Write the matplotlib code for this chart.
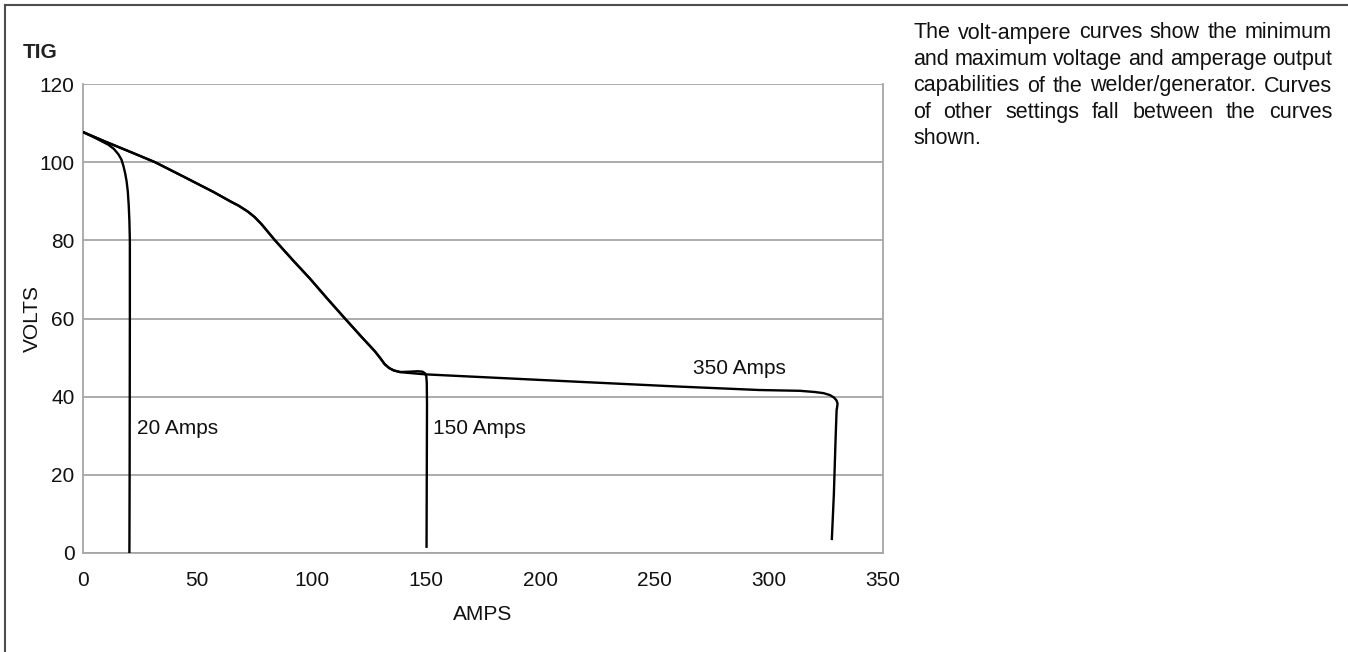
import matplotlib
matplotlib.use("Agg")
import matplotlib.pyplot as plt
from matplotlib.lines import Line2D

plt.rcParams['font.family'] = ['Liberation Sans', 'DejaVu Sans']

# Shared upper part of the volt-ampere characteristic
upper_amps = [0, 10, 20, 31.5, 45, 57, 65, 68, 72, 75, 78, 81, 84, 92, 99.3,
              107, 114.6, 122, 125.5, 127.7]
upper_volts = [107.7, 105.2, 102.8, 100, 96.0, 92.4, 89.8, 88.9, 87.4, 86.0,
               84.2, 82.1, 80, 74.8, 70.2, 65, 60, 55.2, 53.0, 51.6]

# 350 A setting (maximum)
amps_350 = upper_amps + [130, 132, 134, 136, 138.7, 142, 150, 217, 260, 296,
                         313.6, 320, 324, 326.8, 328.5, 329.6, 330.1, 330.0,
                         329.7, 329.3, 328.5, 327.6]
volts_350 = upper_volts + [49.9, 48.3, 47.3, 46.7, 46.3, 46.1, 45.7, 43.8,
                           42.6, 41.7, 41.5, 41.2, 40.9, 40.4, 39.8, 39.1,
                           38.3, 37.6, 36.5, 30, 15, 3.3]

# 150 A setting
amps_150 = upper_amps + [130, 132, 134, 136, 138.7, 143, 146.5, 148.5, 149.6,
                         150.2, 150.4, 150.5, 150.4, 150.3]
volts_150 = upper_volts + [49.9, 48.3, 47.3, 46.7, 46.3, 46.4, 46.5, 46.4,
                           46.0, 45.2, 43.5, 38, 20, 1.3]

# 20 A setting (minimum)
amps_20 = [0, 5, 8, 11, 13.5, 15.5, 16.8, 17.7, 18.5, 19.1, 19.6, 20.0, 20.3,
           20.5, 20.5, 20.4, 20.3]
volts_20 = [107.7, 106.3, 105.4, 104.5, 103.4, 102.0, 100.7, 99.0, 97.0, 95.0,
            92.5, 89.0, 85.0, 80, 60, 20, 0]

curve_labels = ["20 Amps", "150 Amps", "350 Amps"]
label_pos = [(23.5, 31.9), (153.3, 31.9), (266.7, 47.2)]

x_ticks = [0, 50, 100, 150, 200, 250, 300, 350]
y_ticks = [0, 20, 40, 60, 80, 100, 120]

note_lines = [
    "The volt-ampere curves show the minimum",
    "and maximum voltage and amperage output",
    "capabilities of the welder/generator. Curves",
    "of other settings fall between the curves",
    "shown.",
]

W, H = 1348, 652
fig = plt.figure(figsize=(W / 100, H / 100), dpi=100)
ax = fig.add_axes([83 / W, 1 - 553 / H, 800 / W, 469 / H])

grid_col = "#a6a6a6"
text_col = "#111111"
for xs, ys in [(amps_20, volts_20), (amps_150, volts_150), (amps_350, volts_350)]:
    ax.plot(xs, ys, color="black", lw=1.7, solid_joinstyle="round",
            solid_capstyle="butt", zorder=3)

for text, (x, y) in zip(curve_labels, label_pos):
    ax.text(x, y, text, fontsize=15, ha="left", va="center", color=text_col)

ax.set_xlim(0, 350)
ax.set_ylim(0, 120)
ax.set_xticks(x_ticks)
ax.set_yticks(y_ticks)
ax.tick_params(length=0, labelsize=15, colors=text_col)
ax.tick_params(axis="x", pad=13)
ax.tick_params(axis="y", pad=6)
ax.yaxis.grid(True, color=grid_col, lw=1.3)
ax.set_axisbelow(True)
for side in ["left", "bottom", "right"]:
    ax.spines[side].set_color(grid_col)
    ax.spines[side].set_linewidth(1.3)
ax.spines["top"].set_visible(False)

ax.set_xlabel("AMPS", fontsize=15, color=text_col)
ax.xaxis.set_label_coords(0.5, (553 - 615) / 469)
ax.xaxis.label.set_va("center")
ax.set_ylabel("VOLTS", fontsize=15, color=text_col)
ax.yaxis.set_label_coords((32 - 83) / 800, 0.5)
ax.yaxis.label.set_va("center")

fig.text(23 / W, 1 - 52 / H, "TIG", fontsize=15, fontweight="bold",
         ha="left", va="center", color="#222222")

# Outer frame (left and top edges)
frame_col = "#4d4d4d"
fig.add_artist(Line2D([4.5 / W, 4.5 / W], [0, 1 - 4.5 / H], color=frame_col,
                      lw=1.5, transform=fig.transFigure))
fig.add_artist(Line2D([4.5 / W, 1], [1 - 4.5 / H, 1 - 4.5 / H], color=frame_col,
                      lw=1.5, transform=fig.transFigure))

# Justified note block
left_px, right_px, top_px, line_h = 913, 1332, 33, 26.5
renderer = fig.canvas.get_renderer()
note_size = 15.5
for i, line in enumerate(note_lines):
    y = 1 - (top_px + i * line_h) / H
    words = line.split(" ")
    if i == len(note_lines) - 1 or len(words) == 1:
        fig.text(left_px / W, y, line, fontsize=note_size, ha="left",
                 va="center", color=text_col)
        continue
    arts = [fig.text(0, y, w, fontsize=note_size, ha="left", va="center",
                     color=text_col) for w in words]
    widths = [a.get_window_extent(renderer).width for a in arts]
    gap = (right_px - left_px - sum(widths)) / (len(words) - 1)
    x = left_px
    for a, w in zip(arts, widths):
        a.set_x(x / W)
        x += w + gap

fig.savefig("out.png", dpi=100)
